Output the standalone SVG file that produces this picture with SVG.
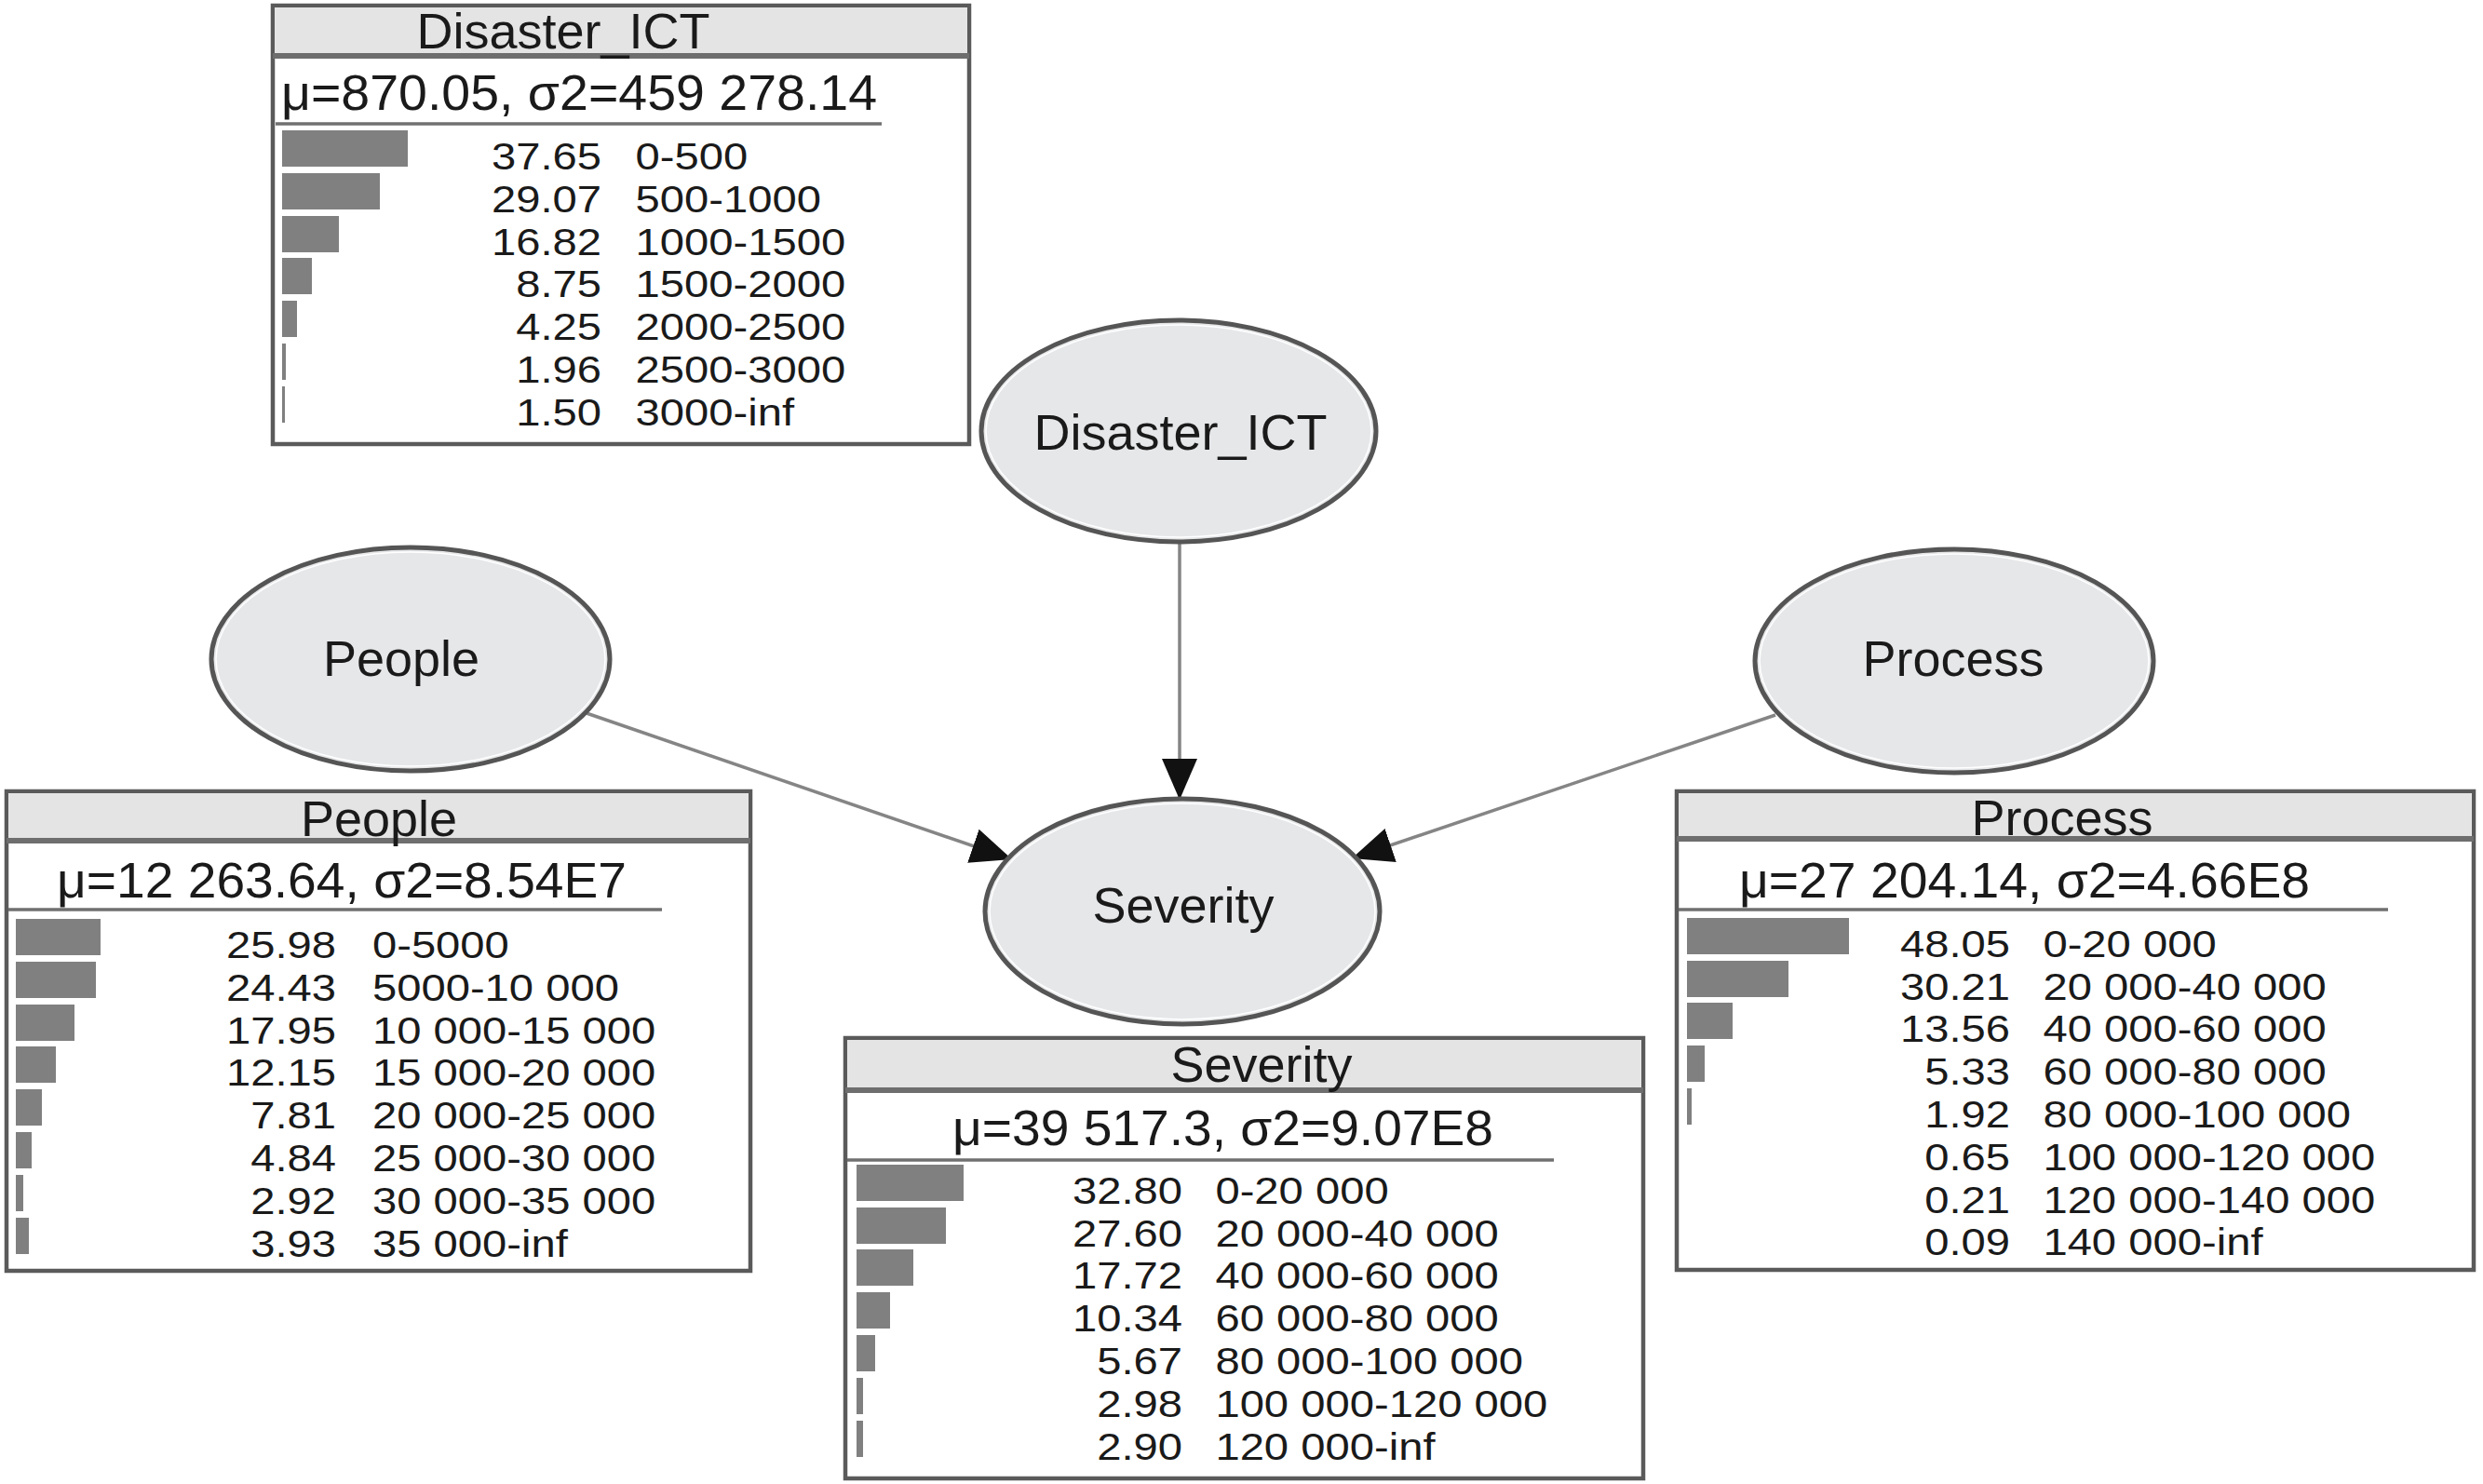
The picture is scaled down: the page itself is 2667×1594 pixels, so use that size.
<svg xmlns="http://www.w3.org/2000/svg" width="2667" height="1594" viewBox="0 0 2667 1594">
<style>
.bg{fill:#ffffff}
.tbl{fill:#ffffff;stroke:#5a5a5a;stroke-width:4.5}
.hdr{fill:#e4e4e4}
.hline{stroke:#6e6e6e;stroke-width:6}
.uline{stroke:#707070;stroke-width:3.5}
.bar{fill:#808080}
.t{font-family:"Liberation Sans",Arial,sans-serif;fill:#1a1a1a}
.title{font-size:54px;text-anchor:middle}
.mu{font-size:54px}
.num{font-size:40px;text-anchor:end}
.rng{font-size:40px}
.node{fill:#e6e7e9;stroke:#555555;stroke-width:5}
.inner{fill:none;stroke:#ffffff;stroke-width:1.5}
.lbl{font-size:54px;text-anchor:middle}
.edge{stroke:#858585;stroke-width:3.5;fill:none}
</style>
<defs>
<marker id="arrow" markerUnits="userSpaceOnUse" markerWidth="46" markerHeight="40" refX="44" refY="19" orient="auto">
<path d="M0,0 L44,19 L0,38 z" fill="#111111"/>
</marker>
</defs>
<rect class="bg" x="0" y="0" width="2667" height="1594"/>

<g id="connectors">
<line class="edge" x1="1267" y1="583" x2="1267" y2="859" marker-end="url(#arrow)"/>
<line class="edge" x1="627" y1="765" x2="1087" y2="923" marker-end="url(#arrow)"/>
<line class="edge" x1="1907" y1="768" x2="1452" y2="922" marker-end="url(#arrow)"/>
</g>

<g id="node-disaster-ict">
<ellipse class="node" cx="1266" cy="463" rx="212" ry="119"/>
<ellipse class="inner" cx="1266" cy="463" rx="207" ry="114"/>
<text class="t lbl" x="1268" y="483">Disaster_ICT</text>
</g>

<g id="node-people">
<ellipse class="node" cx="441" cy="708" rx="214" ry="120"/>
<ellipse class="inner" cx="441" cy="708" rx="209" ry="115"/>
<text class="t lbl" x="431" y="726">People</text>
</g>

<g id="node-process">
<ellipse class="node" cx="2099" cy="710" rx="214" ry="120"/>
<ellipse class="inner" cx="2099" cy="710" rx="209" ry="115"/>
<text class="t lbl" x="2098" y="726">Process</text>
</g>

<g id="node-severity">
<ellipse class="node" cx="1270" cy="979" rx="212" ry="121"/>
<ellipse class="inner" cx="1270" cy="979" rx="207" ry="116"/>
<text class="t lbl" x="1271" y="991">Severity</text>
</g>

<g id="table-disaster-ict">
<rect class="tbl" x="293" y="6" width="748" height="471"/>
<rect class="hdr" x="295" y="8" width="744" height="52"/>
<line class="hline" x1="293" y1="60" x2="1041" y2="60"/>
<text class="t title" x="605" y="52">Disaster_ICT</text>
<text class="t mu" x="302" y="118" textLength="640" lengthAdjust="spacingAndGlyphs">μ=870.05, σ2=459 278.14</text>
<line class="uline" x1="296" y1="133" x2="947" y2="133"/>
<rect class="bar" x="303" y="140" width="135" height="39"/>
<rect class="bar" x="303" y="186" width="105" height="39"/>
<rect class="bar" x="303" y="232" width="61" height="39"/>
<rect class="bar" x="303" y="277" width="32" height="39"/>
<rect class="bar" x="303" y="323" width="16" height="39"/>
<rect class="bar" x="303" y="369" width="4" height="39"/>
<rect class="bar" x="303" y="415" width="3" height="39"/>
<g transform="matrix(1.18 0 0 1 646 0)">
<text class="t num" x="0" y="182">37.65</text><text class="t rng" x="31" y="182">0-500</text>
<text class="t num" x="0" y="228">29.07</text><text class="t rng" x="31" y="228">500-1000</text>
<text class="t num" x="0" y="274">16.82</text><text class="t rng" x="31" y="274">1000-1500</text>
<text class="t num" x="0" y="319">8.75</text><text class="t rng" x="31" y="319">1500-2000</text>
<text class="t num" x="0" y="365">4.25</text><text class="t rng" x="31" y="365">2000-2500</text>
<text class="t num" x="0" y="411">1.96</text><text class="t rng" x="31" y="411">2500-3000</text>
<text class="t num" x="0" y="457">1.50</text><text class="t rng" x="31" y="457">3000-inf</text>
</g>
</g>

<g id="table-people">
<rect class="tbl" x="7" y="850" width="799" height="515"/>
<rect class="hdr" x="9" y="852" width="795" height="51"/>
<line class="hline" x1="7" y1="903" x2="806" y2="903"/>
<text class="t title" x="407" y="898">People</text>
<text class="t mu" x="61" y="964" textLength="612" lengthAdjust="spacingAndGlyphs">μ=12 263.64, σ2=8.54E7</text>
<line class="uline" x1="9" y1="977" x2="711" y2="977"/>
<rect class="bar" x="17" y="987" width="91" height="39"/>
<rect class="bar" x="17" y="1033" width="86" height="39"/>
<rect class="bar" x="17" y="1079" width="63" height="39"/>
<rect class="bar" x="17" y="1124" width="43" height="39"/>
<rect class="bar" x="17" y="1170" width="28" height="39"/>
<rect class="bar" x="17" y="1216" width="17" height="39"/>
<rect class="bar" x="17" y="1262" width="8" height="39"/>
<rect class="bar" x="17" y="1308" width="14" height="39"/>
<g transform="matrix(1.18 0 0 1 361 0)">
<text class="t num" x="0" y="1029">25.98</text><text class="t rng" x="33" y="1029">0-5000</text>
<text class="t num" x="0" y="1075">24.43</text><text class="t rng" x="33" y="1075">5000-10 000</text>
<text class="t num" x="0" y="1121">17.95</text><text class="t rng" x="33" y="1121">10 000-15 000</text>
<text class="t num" x="0" y="1166">12.15</text><text class="t rng" x="33" y="1166">15 000-20 000</text>
<text class="t num" x="0" y="1212">7.81</text><text class="t rng" x="33" y="1212">20 000-25 000</text>
<text class="t num" x="0" y="1258">4.84</text><text class="t rng" x="33" y="1258">25 000-30 000</text>
<text class="t num" x="0" y="1304">2.92</text><text class="t rng" x="33" y="1304">30 000-35 000</text>
<text class="t num" x="0" y="1350">3.93</text><text class="t rng" x="33" y="1350">35 000-inf</text>
</g>
</g>

<g id="table-severity">
<rect class="tbl" x="908" y="1115" width="857" height="473"/>
<rect class="hdr" x="910" y="1117" width="853" height="54"/>
<line class="hline" x1="908" y1="1171" x2="1765" y2="1171"/>
<text class="t title" x="1355" y="1162">Severity</text>
<text class="t mu" x="1023" y="1230" textLength="581" lengthAdjust="spacingAndGlyphs">μ=39 517.3, σ2=9.07E8</text>
<line class="uline" x1="910" y1="1246" x2="1669" y2="1246"/>
<rect class="bar" x="920" y="1251" width="115" height="39"/>
<rect class="bar" x="920" y="1297" width="96" height="39"/>
<rect class="bar" x="920" y="1342" width="61" height="39"/>
<rect class="bar" x="920" y="1388" width="36" height="39"/>
<rect class="bar" x="920" y="1434" width="20" height="39"/>
<rect class="bar" x="920" y="1480" width="7" height="39"/>
<rect class="bar" x="920" y="1526" width="7" height="39"/>
<g transform="matrix(1.18 0 0 1 1270 0)">
<text class="t num" x="0" y="1293">32.80</text><text class="t rng" x="30" y="1293">0-20 000</text>
<text class="t num" x="0" y="1339">27.60</text><text class="t rng" x="30" y="1339">20 000-40 000</text>
<text class="t num" x="0" y="1384">17.72</text><text class="t rng" x="30" y="1384">40 000-60 000</text>
<text class="t num" x="0" y="1430">10.34</text><text class="t rng" x="30" y="1430">60 000-80 000</text>
<text class="t num" x="0" y="1476">5.67</text><text class="t rng" x="30" y="1476">80 000-100 000</text>
<text class="t num" x="0" y="1522">2.98</text><text class="t rng" x="30" y="1522">100 000-120 000</text>
<text class="t num" x="0" y="1568">2.90</text><text class="t rng" x="30" y="1568">120 000-inf</text>
</g>
</g>

<g id="table-process">
<rect class="tbl" x="1801" y="850" width="856" height="514"/>
<rect class="hdr" x="1803" y="852" width="852" height="49"/>
<line class="hline" x1="1801" y1="901" x2="2657" y2="901"/>
<text class="t title" x="2215" y="897">Process</text>
<text class="t mu" x="1868" y="964" textLength="613" lengthAdjust="spacingAndGlyphs">μ=27 204.14, σ2=4.66E8</text>
<line class="uline" x1="1803" y1="977" x2="2565" y2="977"/>
<rect class="bar" x="1812" y="986" width="174" height="39"/>
<rect class="bar" x="1812" y="1032" width="109" height="39"/>
<rect class="bar" x="1812" y="1077" width="49" height="39"/>
<rect class="bar" x="1812" y="1123" width="19" height="39"/>
<rect class="bar" x="1812" y="1169" width="5" height="39"/>
<g transform="matrix(1.18 0 0 1 2159 0)">
<text class="t num" x="0" y="1028">48.05</text><text class="t rng" x="30" y="1028">0-20 000</text>
<text class="t num" x="0" y="1074">30.21</text><text class="t rng" x="30" y="1074">20 000-40 000</text>
<text class="t num" x="0" y="1119">13.56</text><text class="t rng" x="30" y="1119">40 000-60 000</text>
<text class="t num" x="0" y="1165">5.33</text><text class="t rng" x="30" y="1165">60 000-80 000</text>
<text class="t num" x="0" y="1211">1.92</text><text class="t rng" x="30" y="1211">80 000-100 000</text>
<text class="t num" x="0" y="1257">0.65</text><text class="t rng" x="30" y="1257">100 000-120 000</text>
<text class="t num" x="0" y="1303">0.21</text><text class="t rng" x="30" y="1303">120 000-140 000</text>
<text class="t num" x="0" y="1348">0.09</text><text class="t rng" x="30" y="1348">140 000-inf</text>
</g>
</g>
</svg>
